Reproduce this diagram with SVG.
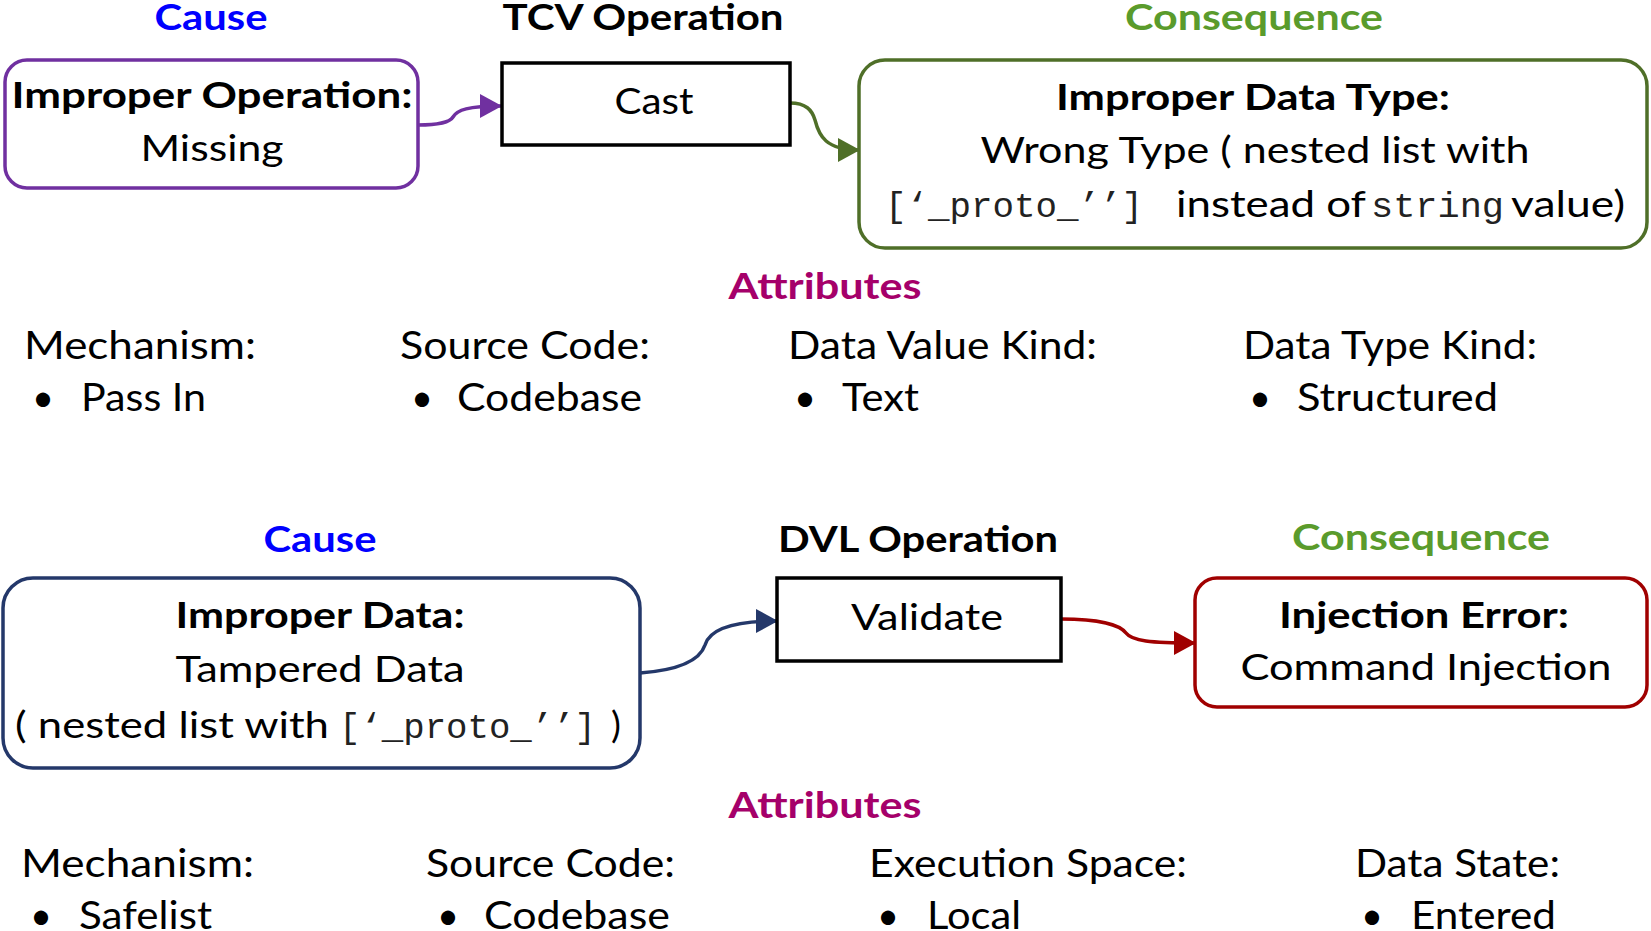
<svg xmlns="http://www.w3.org/2000/svg" width="1651" height="931" viewBox="0 0 1651 931">
<style>
text{font-family:Lato,"Liberation Sans",sans-serif;font-size:37px;fill:#000}
.a{font-size:38px}
.b{font-weight:bold}
.c{text-anchor:middle}
.m{font-family:"Liberation Mono","DejaVu Sans Mono",monospace;font-size:35px;fill:#222}
.cause{fill:#0000FF}
.cons{fill:#5A9B2C}
.attr{fill:#A5006A}
.rbox{fill:#fff;stroke-width:3.5}
.op{fill:#fff;stroke:#000;stroke-width:3.5}
.conn{fill:none;stroke-width:3.5}
</style>
<defs>
<marker id="aP" viewBox="0 0 22 24" refX="21" refY="12" markerWidth="22" markerHeight="24" markerUnits="userSpaceOnUse" orient="auto"><path d="M0,0 L22,12 L0,24 z" fill="#7030A0"/></marker>
<marker id="aG" viewBox="0 0 22 24" refX="21" refY="12" markerWidth="22" markerHeight="24" markerUnits="userSpaceOnUse" orient="auto"><path d="M0,0 L22,12 L0,24 z" fill="#4F6F28"/></marker>
<marker id="aN" viewBox="0 0 22 24" refX="21" refY="12" markerWidth="22" markerHeight="24" markerUnits="userSpaceOnUse" orient="auto"><path d="M0,0 L22,12 L0,24 z" fill="#24386A"/></marker>
<marker id="aR" viewBox="0 0 22 24" refX="21" refY="12" markerWidth="22" markerHeight="24" markerUnits="userSpaceOnUse" orient="auto"><path d="M0,0 L22,12 L0,24 z" fill="#A00000"/></marker>
</defs>

<!-- headings -->
<g id="headings">
<text class="b c cause" x="211" y="30" textLength="113" lengthAdjust="spacingAndGlyphs">Cause</text>
<text class="b c" x="643" y="30" textLength="281" lengthAdjust="spacingAndGlyphs">TCV Operation</text>
<text class="b c cons" x="1254" y="30" textLength="258" lengthAdjust="spacingAndGlyphs">Consequence</text>
<text class="b c cause" x="320" y="552" textLength="113" lengthAdjust="spacingAndGlyphs">Cause</text>
<text class="b c" x="918" y="552" textLength="280" lengthAdjust="spacingAndGlyphs">DVL Operation</text>
<text class="b c cons" x="1421" y="550" textLength="258" lengthAdjust="spacingAndGlyphs">Consequence</text>
</g>

<g id="connectors">
<path class="conn" stroke="#7030A0" d="M418,125 C440,125 450,122 453,117 C457,110 468,106 501,106" marker-end="url(#aP)"/>
<path class="conn" stroke="#4F6F28" d="M790,103 C806,103 812,110 815,120 C819,136 826,150 859,150" marker-end="url(#aG)"/>
<path class="conn" stroke="#24386A" d="M640,673 C680,670 700,660 705,645 C710,628 735,621 777,621" marker-end="url(#aN)"/>
<path class="conn" stroke="#A00000" d="M1061,619 C1100,619 1120,625 1126,633 C1132,641 1150,643 1195,643" marker-end="url(#aR)"/>
</g>

<g id="cause1">
<rect class="rbox" x="5" y="60" width="413" height="128" rx="22" stroke="#7030A0"/>
<text class="b c" x="212" y="108" textLength="401" lengthAdjust="spacingAndGlyphs">Improper Operation:</text>
<text class="c" x="212" y="161" textLength="143" lengthAdjust="spacingAndGlyphs">Missing</text>
</g>

<g id="cast">
<rect class="op" x="502" y="63" width="288" height="82"/>
<text class="c" x="654" y="114" textLength="79" lengthAdjust="spacingAndGlyphs">Cast</text>
</g>

<g id="consequence1">
<rect class="rbox" x="859" y="60" width="788" height="188" rx="26" stroke="#4F6F28"/>
<text class="b c" x="1253" y="110" textLength="394" lengthAdjust="spacingAndGlyphs">Improper Data Type:</text>
<text class="c" x="1255" y="163" textLength="549" lengthAdjust="spacingAndGlyphs">Wrong Type ( nested list with</text>
<text class="m" x="885" y="217" textLength="258" lengthAdjust="spacingAndGlyphs">[‘_proto_’’]</text>
<text x="1176" y="217" textLength="190" lengthAdjust="spacingAndGlyphs">instead of</text>
<text class="m" x="1371" y="217" textLength="133" lengthAdjust="spacingAndGlyphs">string</text>
<text x="1511" y="217" textLength="114" lengthAdjust="spacingAndGlyphs">value)</text>
</g>

<g id="attributes1">
<text class="b c attr" x="825" y="299" textLength="193" lengthAdjust="spacingAndGlyphs">Attributes</text>
<text class="a" x="24" y="359" textLength="232" lengthAdjust="spacingAndGlyphs">Mechanism:</text>
<text class="a" x="400" y="359" textLength="250" lengthAdjust="spacingAndGlyphs">Source Code:</text>
<text class="a" x="788" y="359" textLength="309" lengthAdjust="spacingAndGlyphs">Data Value Kind:</text>
<text class="a" x="1243" y="359" textLength="294" lengthAdjust="spacingAndGlyphs">Data Type Kind:</text>
<text class="a c" x="43" y="411">•</text>
<text class="a" x="81" y="411" textLength="125" lengthAdjust="spacingAndGlyphs">Pass In</text>
<text class="a c" x="422" y="411">•</text>
<text class="a" x="457" y="411" textLength="185" lengthAdjust="spacingAndGlyphs">Codebase</text>
<text class="a c" x="805" y="411">•</text>
<text class="a" x="842" y="411" textLength="77" lengthAdjust="spacingAndGlyphs">Text</text>
<text class="a c" x="1260" y="411">•</text>
<text class="a" x="1297" y="411" textLength="201" lengthAdjust="spacingAndGlyphs">Structured</text>
</g>

<g id="cause2">
<rect class="rbox" x="3" y="578" width="637" height="190" rx="30" stroke="#24386A"/>
<text class="b c" x="320" y="628" textLength="289" lengthAdjust="spacingAndGlyphs">Improper Data:</text>
<text class="c" x="320" y="682" textLength="289" lengthAdjust="spacingAndGlyphs">Tampered Data</text>
<text x="15" y="738" textLength="314" lengthAdjust="spacingAndGlyphs">( nested list with</text>
<text class="m" x="339" y="738" textLength="257" lengthAdjust="spacingAndGlyphs">[‘_proto_’’]</text>
<text x="611" y="738">)</text>
</g>

<g id="validate">
<rect class="op" x="777" y="578" width="284" height="83"/>
<text class="c" x="927" y="630" textLength="152" lengthAdjust="spacingAndGlyphs">Validate</text>
</g>

<g id="consequence2">
<rect class="rbox" x="1195" y="578" width="452" height="129" rx="22" stroke="#A00000"/>
<text class="b c" x="1424" y="628" textLength="290" lengthAdjust="spacingAndGlyphs">Injection Error:</text>
<text class="c" x="1426" y="680" textLength="371" lengthAdjust="spacingAndGlyphs">Command Injection</text>
</g>

<g id="attributes2">
<text class="b c attr" x="825" y="818" textLength="193" lengthAdjust="spacingAndGlyphs">Attributes</text>
<text class="a" x="21" y="877" textLength="233" lengthAdjust="spacingAndGlyphs">Mechanism:</text>
<text class="a" x="426" y="877" textLength="249" lengthAdjust="spacingAndGlyphs">Source Code:</text>
<text class="a" x="869" y="877" textLength="318" lengthAdjust="spacingAndGlyphs">Execution Space:</text>
<text class="a" x="1355" y="877" textLength="205" lengthAdjust="spacingAndGlyphs">Data State:</text>
<text class="a c" x="41" y="929">•</text>
<text class="a" x="79" y="929" textLength="133" lengthAdjust="spacingAndGlyphs">Safelist</text>
<text class="a c" x="448" y="929">•</text>
<text class="a" x="484" y="929" textLength="186" lengthAdjust="spacingAndGlyphs">Codebase</text>
<text class="a c" x="888" y="929">•</text>
<text class="a" x="927" y="929" textLength="94" lengthAdjust="spacingAndGlyphs">Local</text>
<text class="a c" x="1372" y="929">•</text>
<text class="a" x="1411" y="929" textLength="145" lengthAdjust="spacingAndGlyphs">Entered</text>
</g>
</svg>
